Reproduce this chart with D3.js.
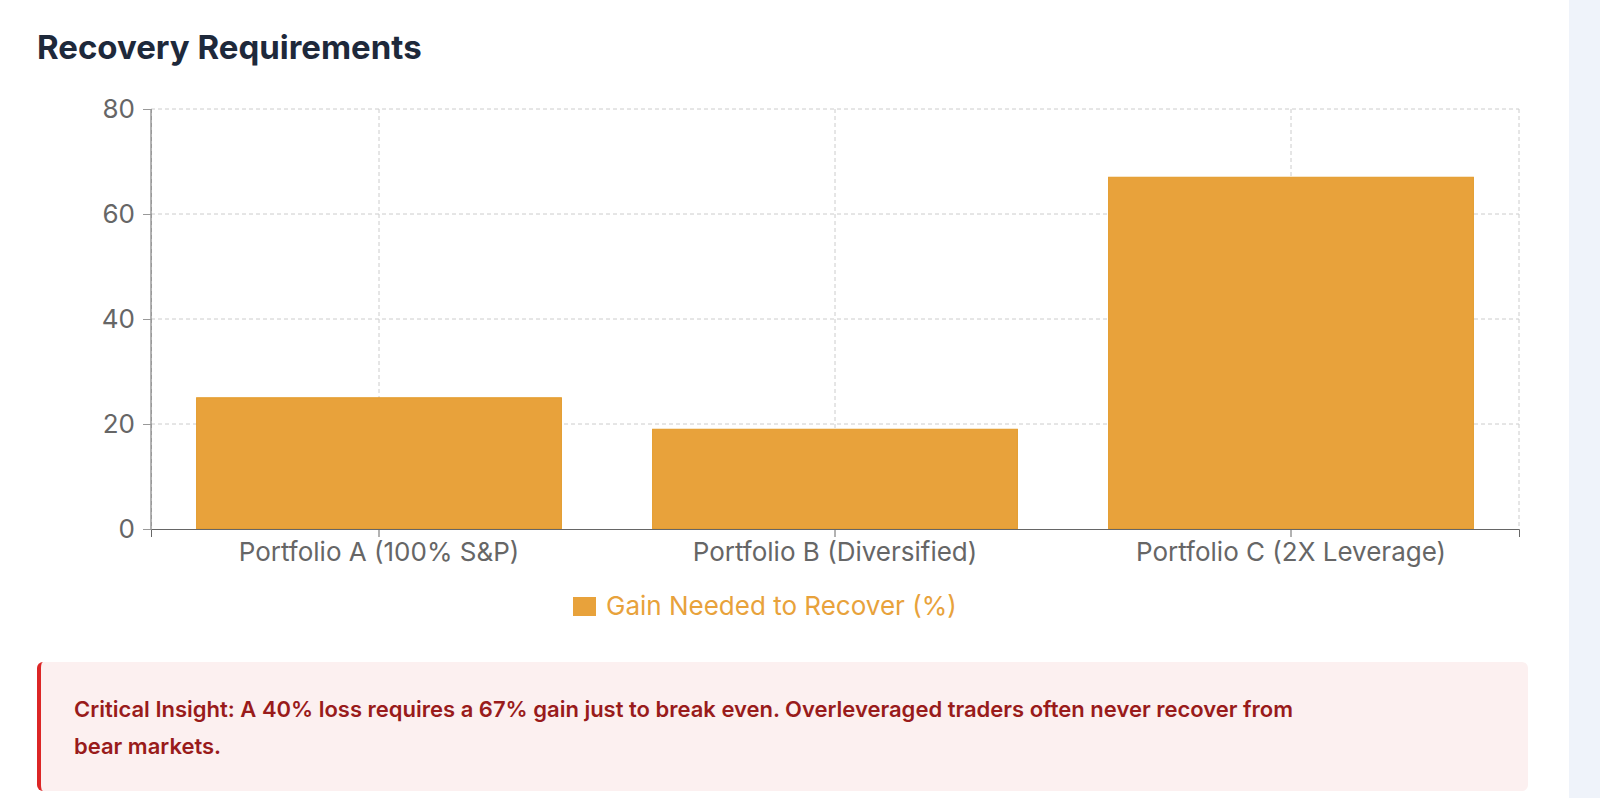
<!DOCTYPE html>
<html><head><meta charset="utf-8">
<script src="https://cdn.jsdelivr.net/npm/d3@7"></script>
<style>
body{margin:0;background:#fff;font-family:"Inter","Open Sans",sans-serif;}
#strip{position:absolute;left:1569px;top:0;width:31px;height:798px;background:#eff3fa;}
#title{position:absolute;left:37px;top:27px;font-size:33px;font-weight:700;color:#1e293b;}
#box{position:absolute;left:37px;top:662px;width:1491px;height:129px;background:#fcf0f0;border-left:4px solid #dc2626;border-radius:6px;box-sizing:border-box;}
#box div{position:absolute;left:33px;top:29px;width:1250px;font-size:22px;font-weight:600;color:#991b1b;line-height:37px;}
svg{position:absolute;left:0;top:0;}
</style></head><body>
<div id="strip"></div>
<div id="title">Recovery Requirements</div>
<svg id="c" width="1560" height="650"></svg>
<div id="box"><div>Critical Insight: A 40% loss requires a 67% gain just to break even. Overleveraged traders often never recover from bear markets.</div></div>
<script>
const categories=["Portfolio A (100% S&P)","Portfolio B (Diversified)","Portfolio C (2X Leverage)"];
const values=[25,19,67];
const yTicks=[0,20,40,60,80];
const seriesName="Gain Needed to Recover (%)";
const svg=d3.select("#c");
const L=151,R=1519,T=109,B=529;
const x=d3.scaleBand().domain(categories).range([L,R]).paddingInner(0).paddingOuter(0);
const y=d3.scaleLinear().domain([0,80]).range([B,T]);
const g=svg.append("g");
g.selectAll(".hg").data(yTicks.slice(1)).join("line").attr("x1",L).attr("x2",R).attr("y1",d=>y(d)).attr("y2",d=>y(d)).attr("stroke","#ccc").attr("stroke-dasharray","4,3");
const vx=[L+0.5,...categories.map(c=>x(c)+x.bandwidth()/2),R];
g.selectAll(".vg").data(vx).join("line").attr("x1",d=>d).attr("x2",d=>d).attr("y1",T).attr("y2",B).attr("stroke","#ccc").attr("stroke-dasharray","4,3");
const bw=x.bandwidth()*0.8;
g.selectAll(".b").data(values).join("rect")
 .attr("x",(d,i)=>x(categories[i])+(x.bandwidth()-bw)/2).attr("width",bw)
 .attr("y",d=>y(d)).attr("height",d=>B-y(d)).attr("fill","#e8a23b").attr("stroke","#e39a2a").attr("stroke-width",1);
const ya=svg.append("g").attr("transform",`translate(${L},0)`).call(d3.axisLeft(y).tickValues(yTicks).tickSize(8).tickPadding(8));
const xa=svg.append("g").attr("transform",`translate(0,${B})`).call(d3.axisBottom(x).tickSize(8).tickPadding(6));
[ya,xa].forEach(a=>{a.selectAll("text").attr("fill","#666").style("font-size","26px").style("font-family","Inter,'Open Sans',sans-serif");
 a.select(".domain").attr("stroke","#666");a.selectAll(".tick line").attr("stroke","#666");});
ya.select(".domain").attr("d",`M0,${T}H0V${B}`);
ya.selectAll(".tick line").attr("stroke","#999");
const lg=svg.append("g");
lg.append("rect").attr("x",573).attr("y",597).attr("width",23).attr("height",19).attr("fill","#e8a23b");
lg.append("text").attr("x",606).attr("y",615).text(seriesName).attr("fill","#e8a23b").style("font-size","26px");
</script></body></html>
